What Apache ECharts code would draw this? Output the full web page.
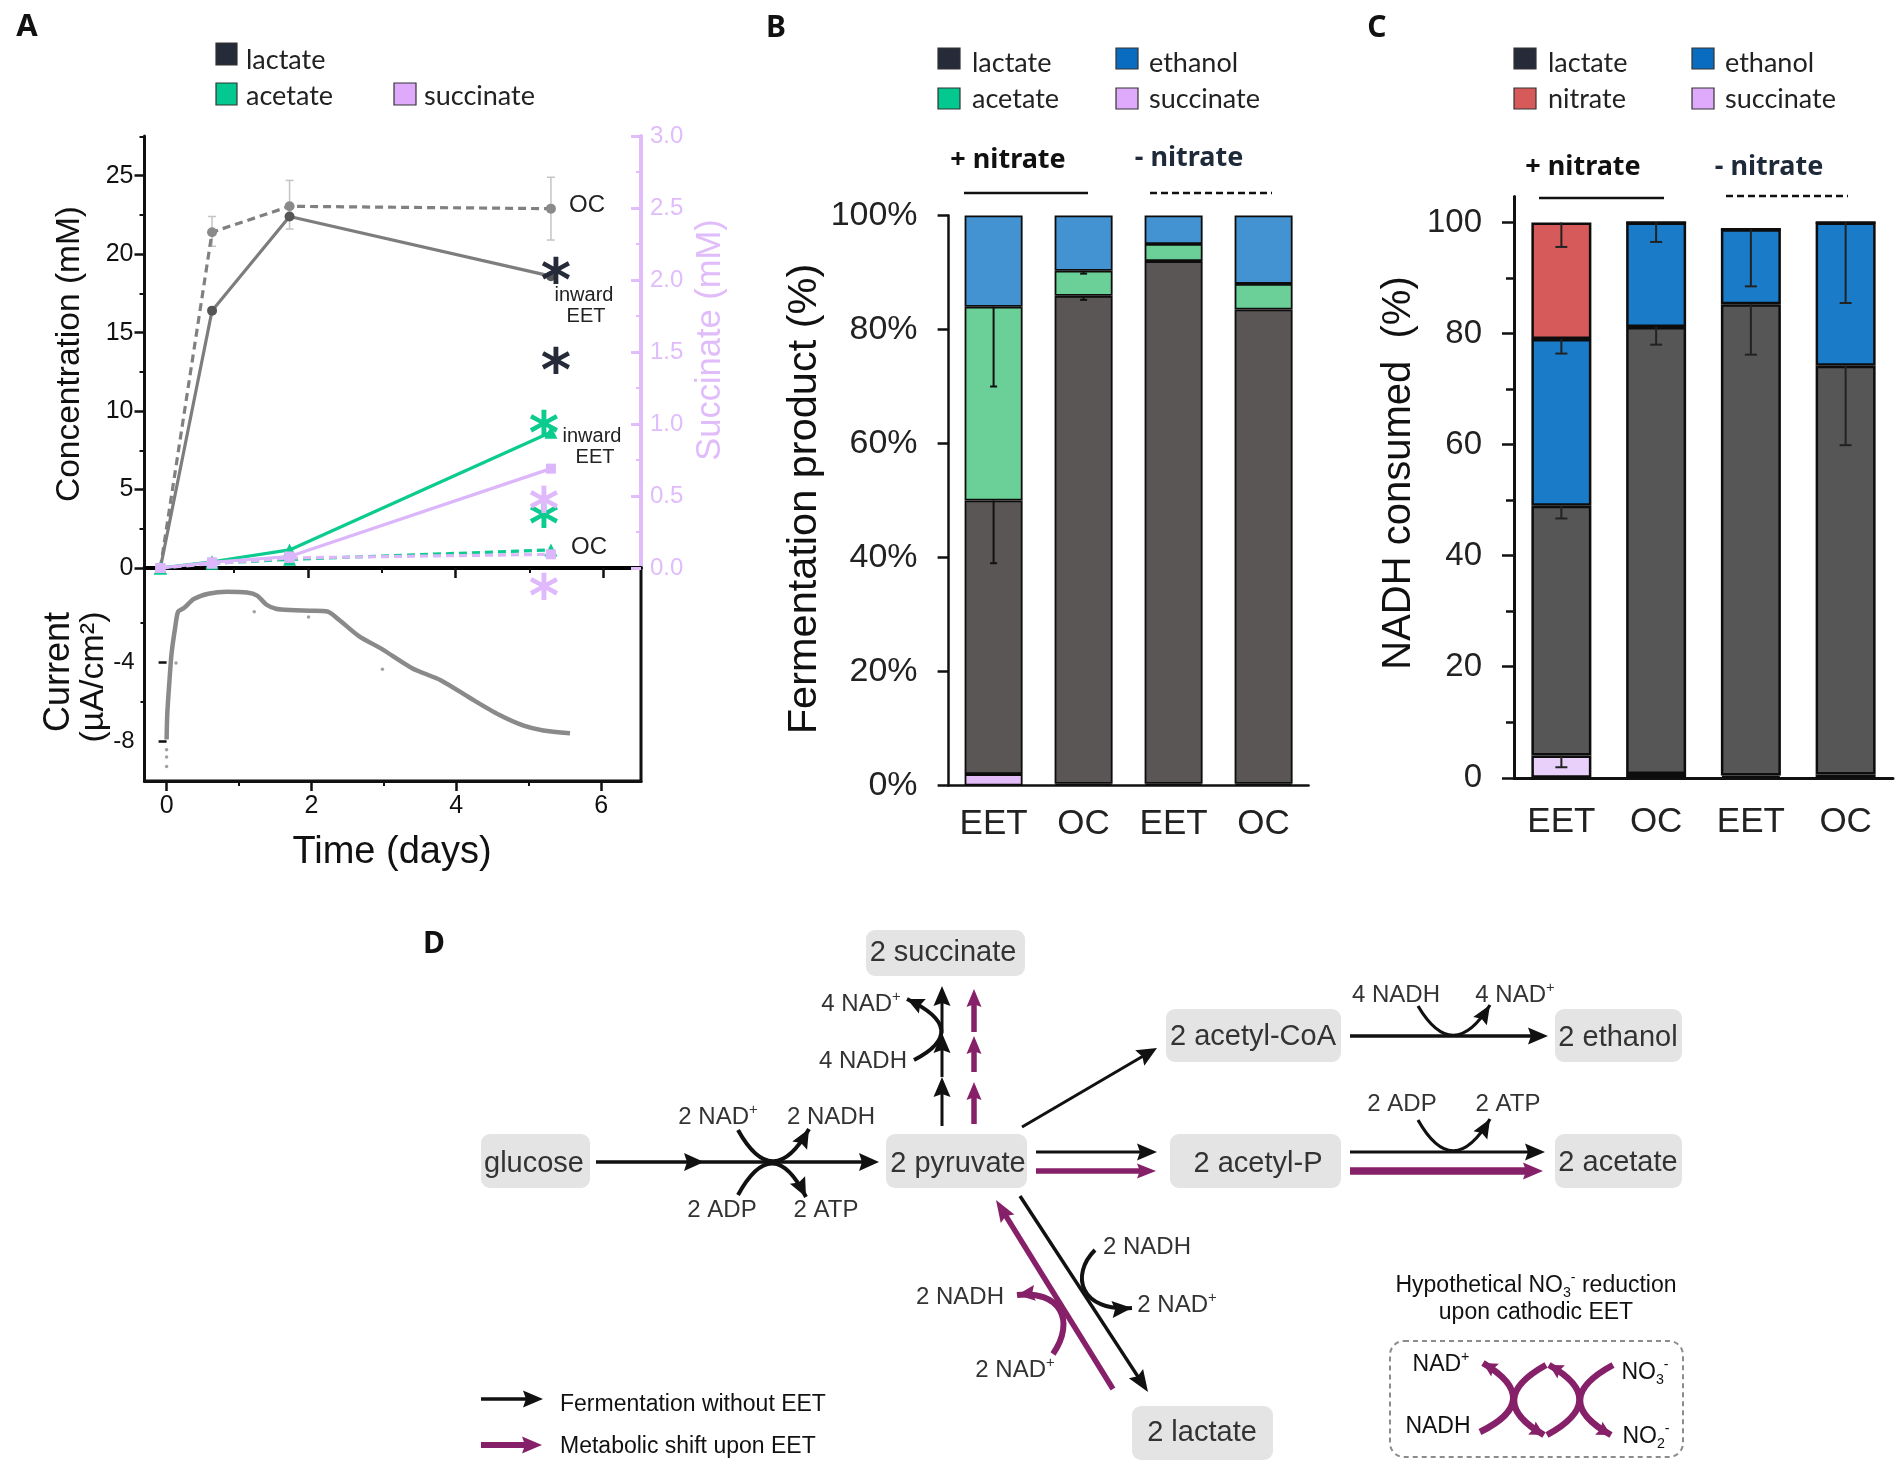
<!DOCTYPE html>
<html>
<head>
<meta charset="utf-8">
<style>
  html, body { margin: 0; padding: 0; background: #fff; }
  #main { width: 1901px; height: 1481px; }
</style>
<script src="https://cdn.jsdelivr.net/npm/echarts@6/dist/echarts.min.js"></script>
</head>
<body>
<div id="main"></div>
<script>
// panel A, top: concentration over time
var sampleDays = [0, 0.70, 1.75, 5.29];
var lactateEET = [0, 16.4, 22.4, 18.6];
var lactateOC = [0, 21.4, 23.05, 22.9];
var acetateEET = [0, 0.4, 1.15, 8.65];
var acetateOC = [0, 0.3, 0.55, 1.15];
var succinateEET = [0, 0.04, 0.08, 0.69];
var succinateOC = [0, 0.03, 0.07, 0.095];
var lactateOCErr = [[0.70, 20.5, 22.4], [1.75, 21.6, 24.7], [5.29, 20.9, 24.9]];

// panel A, bottom: current
var currentCurve = [[0, -7.9], [0.01, -6.57], [0.04, -4.9], [0.07, -3.5], [0.12, -2.2], [0.16, -1.42], [0.24, -1.25],
  [0.375, -0.79], [0.576, -0.52], [0.84, -0.42], [1.11, -0.46], [1.25, -0.62], [1.38, -1.08], [1.51, -1.28],
  [1.71, -1.35], [1.98, -1.38], [2.22, -1.42], [2.38, -1.84], [2.65, -2.65], [2.99, -3.36], [3.39, -4.29],
  [3.79, -4.91], [4.19, -5.8], [4.59, -6.65], [4.93, -7.2], [5.2, -7.44], [5.57, -7.58]];
var currentStray = [[0, -8.42], [0, -8.79], [0, -9.27], [0.13, -4.03], [1.21, -1.43], [1.96, -1.7], [2.98, -4.34]];

// panel B
var barCats = ['EET', 'OC', 'EET', 'OC'];
var bSuccinate = [2, 0.3, 0.3, 0.3];
var bLactate = [48, 85.6, 91.7, 83.2];
var bAcetate = [34, 4.4, 3, 4.5];
var bEthanol = [16, 9.7, 5, 12];
var bErr = [[0, 70, 84], [0, 39, 50], [1, 89.8, 90.3], [1, 85.2, 85.9]];

// panel C
var cSuccinate = [4, 0.7, 0.4, 0.6];
var cLactate = [45, 80.5, 84.9, 73.6];
var cEthanol = [30, 18.8, 13.5, 25.8];
var cNitrate = [21, 0, 0, 0];
var cErr = [[0, 95.6, 100], [0, 76.4, 79], [0, 46.7, 49], [0, 1.9, 4], [1, 96.5, 100], [1, 78, 81.2],
  [2, 88.5, 98.8], [2, 76.2, 85.3], [3, 85.5, 100], [3, 59.9, 74.2]];

var FONT = 'Liberation Sans';
var LEG = 'Lato';
var PURPLE = '#862069';
var LILAC = '#e0bcfb';

function pts(xs, ys) {
  return xs.map(function (x, i) { return [x, ys[i]]; });
}

// vertical error bars through the axis scales: [x, low, high]
function errBars(color, capHalf, lw) {
  return function (params, api) {
    var a = api.coord([api.value(0), api.value(1)]);
    var b = api.coord([api.value(0), api.value(2)]);
    var st = { stroke: color, lineWidth: lw };
    return {
      type: 'group',
      children: [
        { type: 'line', shape: { x1: a[0], y1: a[1], x2: b[0], y2: b[1] }, style: st },
        { type: 'line', shape: { x1: a[0] - capHalf, y1: a[1], x2: a[0] + capHalf, y2: a[1] }, style: st }
      ]
    };
  };
}

// ---- text and diagram helpers
var g = [];

function txt(x, y, s, size, o) {
  o = o || {};
  g.push({
    type: 'text', x: x, y: o.rot ? y : y + 2, rotation: o.rot || 0, silent: true, z: 20,
    style: {
      text: s, fill: o.color || '#222', textAlign: o.align || 'center', textVerticalAlign: 'middle',
      font: (o.weight || 'normal') + ' ' + size + 'px "' + (o.font || FONT) + '"'
    }
  });
}

function richTxt(x, y, s, size, color) {
  g.push({
    type: 'text', x: x, y: y + 2, silent: true, z: 20,
    style: {
      text: s, textAlign: 'center', textVerticalAlign: 'middle', fill: color,
      fontFamily: FONT, fontSize: size,
      rich: {
        n: { fontFamily: FONT, fontSize: size, lineHeight: size + 6, fill: color },
        s: { fontFamily: FONT, fontSize: size * 0.62, lineHeight: size * 0.6, verticalAlign: 'top', fill: color },
        b: { fontFamily: FONT, fontSize: size * 0.62, lineHeight: size * 0.6, verticalAlign: 'bottom', fill: color }
      }
    }
  });
}

function box(x0, y0, x1, y1, s, cx, cy) {
  g.push({
    type: 'rect', silent: true, z: 5,
    shape: { x: x0, y: y0, width: x1 - x0, height: y1 - y0, r: 9 },
    style: { fill: '#e4e4e4' }
  });
  txt(cx, cy, s, 29, { color: '#333' });
}

function head(tx, ty, dx, dy, len, wid, color) {
  var n = Math.sqrt(dx * dx + dy * dy);
  dx /= n; dy /= n;
  var bx = tx - dx * len, by = ty - dy * len;
  g.push({
    type: 'polygon', silent: true, z: 10,
    shape: { points: [[tx, ty], [bx - dy * wid / 2, by + dx * wid / 2], [tx - dx * len * 0.85, ty - dy * len * 0.85], [bx + dy * wid / 2, by - dx * wid / 2]] },
    style: { fill: color }
  });
}

function arrow(x1, y1, x2, y2, color, lw, len, wid) {
  var n = Math.sqrt((x2 - x1) * (x2 - x1) + (y2 - y1) * (y2 - y1));
  var k = (n - len * 0.7) / n;
  g.push({
    type: 'line', silent: true, z: 10,
    shape: { x1: x1, y1: y1, x2: x1 + (x2 - x1) * k, y2: y1 + (y2 - y1) * k },
    style: { stroke: color, lineWidth: lw }
  });
  head(x2, y2, x2 - x1, y2 - y1, len, wid, color);
}

// quadratic when only one control point is given
function curve(p0, c1, c2, p3, color, lw, len, wid) {
  var sh = { x1: p0[0], y1: p0[1], x2: p3[0], y2: p3[1], cpx1: c1[0], cpy1: c1[1] };
  if (c2) { sh.cpx2 = c2[0]; sh.cpy2 = c2[1]; }
  var last = c2 || c1;
  g.push({
    type: 'bezierCurve', silent: true, z: 10, shape: sh,
    style: { stroke: color, lineWidth: lw, fill: null }
  });
  if (len) head(p3[0], p3[1], p3[0] - last[0], p3[1] - last[1], len, wid, color);
}

function legendSwatch(x0, y0, x1, y1, fill, s, tx, ty) {
  g.push({
    type: 'rect', silent: true, z: 20,
    shape: { x: x0, y: y0, width: x1 - x0, height: y1 - y0 },
    style: { fill: fill, stroke: '#333', lineWidth: 1.2 }
  });
  txt(tx, ty, s, 27, { font: LEG, align: 'left', color: '#222' });
}

// ---- panel letters
txt(27, 25, 'A', 31, { weight: 'bold', font: 'Noto Sans', color: '#111' });
txt(776, 26, 'B', 30, { weight: 'bold', font: 'Noto Sans', color: '#111' });
txt(1377, 26, 'C', 30, { weight: 'bold', font: 'Noto Sans', color: '#111' });
txt(434, 942, 'D', 30, { weight: 'bold', font: 'Noto Sans', color: '#111' });

// ---- legends
legendSwatch(216, 43, 237, 65, '#252b38', 'lactate', 246, 58);
legendSwatch(216, 83, 237, 105, '#03c990', 'acetate', 246, 94);
legendSwatch(394, 83, 416, 105, '#e0aafc', 'succinate', 424, 94);

legendSwatch(938, 48, 960, 69, '#252b38', 'lactate', 972, 61);
legendSwatch(938, 88, 960, 109, '#03c990', 'acetate', 972, 97);
legendSwatch(1116, 48, 1138, 69, '#0a6cc0', 'ethanol', 1149, 61);
legendSwatch(1116, 88, 1138, 109, '#e0aafc', 'succinate', 1149, 97);

legendSwatch(1514, 48, 1536, 69, '#252b38', 'lactate', 1548, 61);
legendSwatch(1514, 88, 1536, 109, '#d75a5a', 'nitrate', 1548, 97);
legendSwatch(1692, 48, 1714, 69, '#0a6cc0', 'ethanol', 1725, 61);
legendSwatch(1692, 88, 1714, 109, '#e0aafc', 'succinate', 1725, 97);

// ---- group headings over the bars
txt(1008, 158, '+ nitrate', 27, { weight: 'bold', font: 'Noto Sans', color: '#111' });
txt(1189, 156, '- nitrate', 27, { weight: 'bold', font: 'Noto Sans', color: '#1e2a3a' });
txt(1583, 165, '+ nitrate', 27, { weight: 'bold', font: 'Noto Sans', color: '#111' });
txt(1769, 165, '- nitrate', 27, { weight: 'bold', font: 'Noto Sans', color: '#1e2a3a' });
[[964, 1088, 193, 0], [1150, 1272, 193, 1], [1539, 1664, 198, 0], [1726, 1848, 196, 1]].forEach(function (r) {
  g.push({
    type: 'line', silent: true, z: 20,
    shape: { x1: r[0], y1: r[2], x2: r[1], y2: r[2] },
    style: { stroke: '#111', lineWidth: 2.5, lineDash: r[3] ? [7, 4] : null }
  });
});

// ---- annotations, panel A
txt(587, 203, 'OC', 24);
txt(584, 293, 'inward', 20);
txt(586, 314, 'EET', 20);
txt(592, 434, 'inward', 20);
txt(595, 455, 'EET', 20);
txt(589, 545, 'OC', 24);
[[556, 272, '#252b38'], [556, 362, '#252b38'], [544, 425, '#0ccb8e'], [544, 516, '#0ccb8e'], [544, 501, '#dfb9fb'], [544, 588, '#dfb9fb']].forEach(function (a) {
  txt(a[0], a[1] + 11, '*', 58, { font: 'DejaVu Sans', weight: 'bold', color: a[2] });
});

// ---- axis titles
txt(70, 354, 'Concentration (mM)', 33.5, { rot: Math.PI / 2, color: '#111' });
txt(710, 340, 'Succinate (mM)', 34.5, { rot: Math.PI / 2, color: LILAC });
txt(59, 672, 'Current', 36, { rot: Math.PI / 2, color: '#111' });
txt(94, 677, '(\u00b5A/cm\u00b2)', 34, { rot: Math.PI / 2, color: '#111' });
txt(392, 851, 'Time (days)', 38, { color: '#111' });
txt(805, 499, 'Fermentation product (%)', 41.5, { rot: Math.PI / 2, color: '#111' });
txt(1399, 473, 'NADH consumed  (%)', 40, { rot: Math.PI / 2, color: '#111' });

// ---- panel D, metabolite boxes
box(866, 930, 1025, 976, '2 succinate', 943, 951);
box(481, 1134, 590, 1188, 'glucose', 534, 1162);
box(886, 1134, 1027, 1188, '2 pyruvate', 958, 1162);
box(1166, 1009, 1341, 1062, '2 acetyl-CoA', 1253, 1035);
box(1555, 1009, 1682, 1062, '2 ethanol', 1618, 1036);
box(1170, 1134, 1341, 1188, '2 acetyl-P', 1258, 1162);
box(1555, 1134, 1682, 1188, '2 acetate', 1618, 1161);
box(1132, 1406, 1273, 1460, '2 lactate', 1202, 1431);

// glycolysis
arrow(596, 1162, 704, 1162, '#111', 3.5, 20, 18);
arrow(700, 1162, 879, 1162, '#111', 3.5, 20, 18);
curve([738, 1130], [773, 1193], null, [809, 1129], '#111', 4, 19, 17);
curve([738, 1195], [773, 1131], null, [806, 1197], '#111', 4, 19, 17);
richTxt(718, 1115, '{n|2 NAD}{s|+}', 24, '#333');
richTxt(831, 1115, '{n|2 NADH}', 24, '#333');
richTxt(722, 1208, '{n|2 ADP}', 24, '#333');
richTxt(826, 1208, '{n|2 ATP}', 24, '#333');

// towards succinate
arrow(942, 1126, 942, 1077, '#111', 3, 20, 17);
arrow(942, 1077, 942, 1033, '#111', 3, 20, 17);
arrow(942, 1033, 942, 986, '#111', 3, 20, 17);
arrow(974, 1124, 974, 1082, PURPLE, 5.5, 18, 15);
arrow(974, 1072, 974, 1036, PURPLE, 5.5, 18, 15);
arrow(974, 1032, 974, 989, PURPLE, 5.5, 18, 15);
curve([914, 1060], [972, 1030], null, [907, 999], '#111', 4, 17, 16);
richTxt(861, 1002, '{n|4 NAD}{s|+}', 24, '#333');
richTxt(863, 1059, '{n|4 NADH}', 24, '#333');

// towards acetyl-CoA and ethanol
arrow(1022, 1127, 1157, 1048, '#111', 3, 20, 18);
arrow(1350, 1036, 1548, 1036, '#111', 3.5, 20, 17);
curve([1418, 1006], [1453, 1065], null, [1490, 1005], '#111', 3.2, 19, 16);
richTxt(1396, 993, '{n|4 NADH}', 24, '#333');
richTxt(1515, 993, '{n|4 NAD}{s|+}', 24, '#333');

// towards acetyl-P and acetate
arrow(1036, 1152, 1157, 1152, '#111', 3, 20, 17);
arrow(1036, 1171, 1156, 1171, PURPLE, 5.5, 19, 15);
arrow(1350, 1152, 1545, 1152, '#111', 3, 20, 17);
arrow(1350, 1171, 1543, 1171, PURPLE, 7.5, 20, 17);
curve([1418, 1120], [1453, 1182], null, [1490, 1119], '#111', 3.2, 19, 16);
richTxt(1402, 1102, '{n|2 ADP}', 24, '#333');
richTxt(1508, 1102, '{n|2 ATP}', 24, '#333');

// towards lactate
arrow(1020, 1196, 1148, 1392, '#111', 3.5, 22, 17);
arrow(1113, 1389, 996, 1200, PURPLE, 5.5, 22, 16);
curve([1053, 1354], [1076, 1320], [1060, 1290], [1017, 1295], PURPLE, 6, 18, 16);
curve([1095, 1250], [1070, 1275], [1080, 1312], [1132, 1308], '#111', 4, 20, 17);
richTxt(960, 1295, '{n|2 NADH}', 24, '#333');
richTxt(1015, 1368, '{n|2 NAD}{s|+}', 24, '#333');
richTxt(1147, 1245, '{n|2 NADH}', 24, '#333');
richTxt(1177, 1303, '{n|2 NAD}{s|+}', 24, '#333');

// nitrate box
richTxt(1536, 1284, '{n|Hypothetical NO}{b|3}{s|-}{n| reduction}', 23, '#111');
richTxt(1536, 1311, '{n|upon cathodic EET}', 23, '#111');
g.push({
  type: 'rect', silent: true, z: 5,
  shape: { x: 1390, y: 1341, width: 293, height: 116, r: 14 },
  style: { fill: null, stroke: '#8c8c8c', lineWidth: 2, lineDash: [5, 4] }
});
richTxt(1441, 1363, '{n|NAD}{s|+}', 23, '#111');
richTxt(1438, 1425, '{n|NADH}', 23, '#111');
richTxt(1645, 1371, '{n|NO}{b|3}{s|-}', 23, '#111');
richTxt(1646, 1435, '{n|NO}{b|2}{s|-}', 23, '#111');
curve([1480, 1432], [1545, 1400], null, [1483, 1363], PURPLE, 6.5, 14, 15);
curve([1546, 1365], [1483, 1400], null, [1544, 1435], PURPLE, 6.5, 14, 15);
curve([1547, 1435], [1611, 1400], null, [1549, 1365], PURPLE, 6.5, 14, 15);
curve([1613, 1365], [1548, 1400], null, [1611, 1435], PURPLE, 6.5, 14, 15);

// diagram key
arrow(481, 1399, 543, 1399, '#111', 3.5, 20, 17);
arrow(481, 1445, 542, 1445, PURPLE, 6, 20, 17);
txt(560, 1403, 'Fermentation without EET', 23, { align: 'left', color: '#111' });
txt(560, 1445, 'Metabolic shift upon EET', 23, { align: 'left', color: '#111' });

// ---- charts
var hidden = { show: false };

function xyLine(name, data, yIdx, color, symbolColor, symbol, dashed, size, z) {
  return {
    name: name, type: 'line', xAxisIndex: 0, yAxisIndex: yIdx, data: data, symbol: symbol, symbolSize: size,
    clip: false, z: z, animation: false,
    lineStyle: { color: color, width: 3.2, type: dashed ? [8, 5] : 'solid' },
    itemStyle: { color: symbolColor }
  };
}

function stackBar(name, data, color, xi, yi, stack, barW, border) {
  return {
    name: name, type: 'bar', stack: stack, xAxisIndex: xi, yAxisIndex: yi, data: data, barWidth: barW, animation: false,
    itemStyle: { color: color, borderColor: '#0d0d0d', borderWidth: border }
  };
}

// minor ticks sit on a second grid laid over the first, so they get their own axis on the same side
function ghostX(grid, min, max, values, len) {
  return {
    gridIndex: grid, type: 'value', min: min, max: max, position: 'bottom',
    axisLine: { show: false, onZero: false },
    axisTick: { show: values.length > 0, customValues: values, length: len, lineStyle: { color: '#111', width: 2 } },
    axisLabel: hidden, splitLine: hidden
  };
}

function ghostY(grid, min, max, values, len, width) {
  return {
    gridIndex: grid, type: 'value', min: min, max: max, position: 'left',
    axisLine: { show: false, onZero: false },
    axisTick: { show: true, customValues: values, length: len, lineStyle: { color: '#111', width: width } },
    axisLabel: hidden, splitLine: hidden
  };
}

var option = {
  backgroundColor: '#fff',
  animation: false,
  textStyle: { fontFamily: FONT },
  graphic: { elements: g },
  grid: [
    { left: 144.5, top: 136, width: 496.5, height: 432 },
    { left: 144.5, top: 568, width: 496.5, height: 213, show: true, borderColor: '#111', borderWidth: 3, backgroundColor: 'transparent' },
    { left: 948.6, top: 215.5, width: 360, height: 570 },
    { left: 1514, top: 196.4, width: 379, height: 581.4 },
    { left: 144.5, top: 136, width: 496.5, height: 432 },
    { left: 144.5, top: 568, width: 496.5, height: 213 },
    { left: 1514, top: 196.4, width: 379, height: 581.4 }
  ],
  xAxis: [
    { // top panel of A
      gridIndex: 0, type: 'value', min: -0.215, max: 6.51, position: 'bottom',
      axisLine: { onZero: false, lineStyle: { color: '#000', width: 4 } },
      axisTick: { customValues: [2, 4, 6], length: 10, lineStyle: { color: '#111', width: 2.5 } },
      axisLabel: hidden, splitLine: hidden
    },
    { // bottom panel of A
      gridIndex: 1, type: 'value', min: -0.305, max: 6.55,
      axisLine: { onZero: false, lineStyle: { color: '#111', width: 3 } },
      axisTick: { customValues: [0, 2, 4, 6], length: 10, lineStyle: { color: '#111', width: 2.5 } },
      axisLabel: { customValues: [0, 2, 4, 6], margin: 13, fontFamily: FONT, fontSize: 25, color: '#111' },
      splitLine: hidden
    },
    { // B
      gridIndex: 2, type: 'category', data: barCats,
      axisLine: { lineStyle: { color: '#111', width: 2.5 } },
      axisTick: hidden,
      axisLabel: { margin: 21, fontFamily: FONT, fontSize: 35, color: '#222' }
    },
    { // C
      gridIndex: 3, type: 'category', data: barCats,
      axisLine: { lineStyle: { color: '#111', width: 3 } },
      axisTick: { length: 10, lineStyle: { color: '#111', width: 3 } },
      axisLabel: { margin: 27, fontFamily: FONT, fontSize: 35, color: '#222' }
    },
    ghostX(4, -0.215, 6.51, [1, 3, 5], 5),
    ghostX(5, -0.305, 6.55, [1, 3, 5], 5),
    ghostX(6, 0, 1, [], 0)
  ],
  yAxis: [
    { // concentration
      gridIndex: 0, type: 'value', min: 0, max: 27.53, position: 'left',
      axisLine: { show: true, onZero: false, lineStyle: { color: '#111', width: 3 } },
      axisTick: { customValues: [0, 5, 10, 15, 20, 25], length: 10, lineStyle: { color: '#111', width: 2.5 } },
      axisLabel: { customValues: [0, 5, 10, 15, 20, 25], margin: 11, fontFamily: FONT, fontSize: 25, color: '#111' },
      splitLine: hidden
    },
    { // succinate
      gridIndex: 0, type: 'value', min: 0, max: 3, interval: 0.5, position: 'right',
      axisLine: { show: true, onZero: false, lineStyle: { color: LILAC, width: 4 } },
      axisTick: { inside: true, length: 10, lineStyle: { color: LILAC, width: 3 } },
      minorTick: { show: true, splitNumber: 2, length: 5, lineStyle: { color: LILAC, width: 2 } },
      axisLabel: { formatter: function (v) { return v.toFixed(1); }, margin: 9, fontFamily: FONT, fontSize: 24, color: LILAC },
      splitLine: hidden, minorSplitLine: hidden
    },
    { // current
      gridIndex: 1, type: 'value', min: -10, max: 0.78, position: 'left',
      axisLine: hidden,
      axisTick: { customValues: [-4, -8], length: 8, lineStyle: { color: '#111', width: 2.5 } },
      axisLabel: { customValues: [-4, -8], margin: 10, fontFamily: FONT, fontSize: 24, color: '#111' },
      splitLine: hidden
    },
    { // B
      gridIndex: 2, type: 'value', min: 0, max: 100, interval: 20,
      axisLine: { show: true, lineStyle: { color: '#111', width: 2.5 } },
      axisTick: { show: true, length: 11, lineStyle: { color: '#111', width: 2.5 } },
      axisLabel: { formatter: '{value}%', margin: 31, fontFamily: FONT, fontSize: 34, color: '#222' },
      splitLine: hidden
    },
    { // C
      gridIndex: 3, type: 'value', min: 0, max: 104.7,
      axisLine: { show: true, lineStyle: { color: '#111', width: 3 } },
      axisTick: { show: true, customValues: [0, 20, 40, 60, 80, 100], length: 12, lineStyle: { color: '#111', width: 2.5 } },
      axisLabel: { customValues: [0, 20, 40, 60, 80, 100], margin: 32, fontFamily: FONT, fontSize: 33, color: '#222' },
      splitLine: hidden
    },
    ghostY(4, 0, 27.53, [2.5, 7.5, 12.5, 17.5, 22.5, 27.5], 5, 2),
    ghostY(5, -10, 0.78, [-2, -6], 4, 2),
    ghostY(6, 0, 104.7, [10, 30, 50, 70, 90], 8, 2.5)
  ],
  series: [
    xyLine('lactate OC', pts(sampleDays, lactateOC), 0, '#808080', '#8a8a8a', 'circle', true, 10, 3),
    xyLine('lactate EET', pts(sampleDays, lactateEET), 0, '#7d7d7d', '#555', 'circle', false, 10, 4),
    xyLine('acetate OC', pts(sampleDays, acetateOC), 0, '#0ccb8e', '#0ccb8e', 'triangle', true, 13, 5),
    xyLine('acetate EET', pts(sampleDays, acetateEET), 0, '#0ccb8e', '#0ccb8e', 'triangle', false, 13, 5),
    xyLine('succinate OC', pts(sampleDays, succinateOC), 1, '#dcb6fa', '#dcb6fa', 'rect', true, 10, 6),
    xyLine('succinate EET', pts(sampleDays, succinateEET), 1, '#dcb6fa', '#dcb6fa', 'rect', false, 10, 6),
    {
      type: 'custom', xAxisIndex: 0, yAxisIndex: 0, data: lactateOCErr, z: 2, animation: false,
      encode: { x: 0, y: [1, 2] },
      renderItem: function (params, api) {
        // error bars here have caps at both ends
        var a = api.coord([api.value(0), api.value(1)]);
        var b = api.coord([api.value(0), api.value(2)]);
        var st = { stroke: '#c4c4c4', lineWidth: 1.5 };
        return {
          type: 'group', children: [
            { type: 'line', shape: { x1: a[0], y1: a[1], x2: b[0], y2: b[1] }, style: st },
            { type: 'line', shape: { x1: a[0] - 4, y1: a[1], x2: a[0] + 4, y2: a[1] }, style: st },
            { type: 'line', shape: { x1: b[0] - 4, y1: b[1], x2: b[0] + 4, y2: b[1] }, style: st }
          ]
        };
      }
    },
    {
      name: 'current', type: 'line', xAxisIndex: 1, yAxisIndex: 2, data: currentCurve, symbol: 'none', smooth: 0.25,
      animation: false, lineStyle: { color: '#8a8a8a', width: 4.5 }
    },
    {
      type: 'scatter', xAxisIndex: 1, yAxisIndex: 2, data: currentStray, symbolSize: 3.5, animation: false,
      itemStyle: { color: '#8a8a8a' }
    },

    stackBar('succinate', bSuccinate, '#e3bdf8', 2, 3, 'b', 58, 1.8),
    stackBar('lactate', bLactate, '#5a5655', 2, 3, 'b', 58, 1.8),
    stackBar('acetate', bAcetate, '#6bd098', 2, 3, 'b', 58, 1.8),
    stackBar('ethanol', bEthanol, '#4393d2', 2, 3, 'b', 58, 1.8),
    {
      type: 'custom', xAxisIndex: 2, yAxisIndex: 3, data: bErr, z: 8, animation: false,
      encode: { x: 0, y: [1, 2] }, renderItem: errBars('#111', 3.5, 2)
    },

    stackBar('succinate', cSuccinate, '#e8d0fb', 3, 4, 'c', 60, 2.5),
    stackBar('lactate', cLactate, '#565656', 3, 4, 'c', 60, 2.5),
    stackBar('ethanol', cEthanol, '#1a7cc8', 3, 4, 'c', 60, 2.5),
    stackBar('nitrate', cNitrate, '#d75a5a', 3, 4, 'c', 60, 2.5),
    {
      type: 'custom', xAxisIndex: 3, yAxisIndex: 4, data: cErr, z: 8, animation: false,
      encode: { x: 0, y: [1, 2] }, renderItem: errBars('#222', 6, 2)
    }
  ]
};

var chart = echarts.init(document.getElementById('main'), null, { renderer: 'canvas' });
chart.setOption(option);
</script>
</body>
</html>
